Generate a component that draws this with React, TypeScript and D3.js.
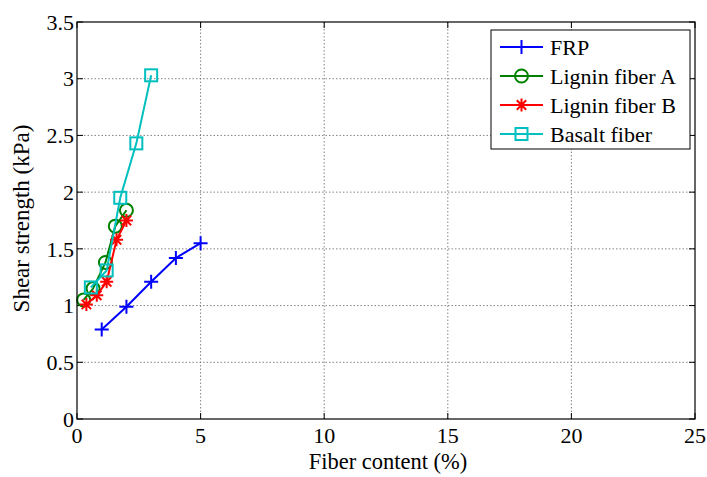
import React from "react";
import * as d3 from "d3";

// series values
const frpX = [1, 2, 3, 4, 5];
const frpY = [0.79, 0.99, 1.21, 1.42, 1.55];
const ligAX = [0.27, 0.65, 1.15, 1.55, 2.0];
const ligAY = [1.05, 1.15, 1.38, 1.7, 1.84];
const ligBX = [0.38, 0.8, 1.2, 1.6, 2.0];
const ligBY = [1.01, 1.09, 1.21, 1.58, 1.75];
const basX = [0.56, 1.2, 1.75, 2.4, 3.0];
const basY = [1.16, 1.31, 1.95, 2.43, 3.03];

const xTicks = [0, 5, 10, 15, 20, 25];
const yTicks = [0, 0.5, 1, 1.5, 2, 2.5, 3, 3.5];
const seriesNames = ["FRP", "Lignin fiber A", "Lignin fiber B", "Basalt fiber"];

const FONT = "Liberation Serif";

const W = 707;
const H = 477;
const m = { left: 77, right: 695, top: 22, bottom: 419 };

const x = d3.scaleLinear().domain([0, 25]).range([m.left, m.right]);
const y = d3.scaleLinear().domain([0, 3.5]).range([m.bottom, m.top]);

const line = d3
  .line<number[]>()
  .x((d) => x(d[0]))
  .y((d) => y(d[1]));

function Marker({ kind, cx, cy, color }) {
  const common = { stroke: color, strokeWidth: 2, fill: "none" };
  if (kind === "plus") {
    const s = 7;
    return <path d={`M${cx - s},${cy}H${cx + s}M${cx},${cy - s}V${cy + s}`} {...common} />;
  }
  if (kind === "circle") {
    return <circle cx={cx} cy={cy} r={6.5} {...common} />;
  }
  if (kind === "star") {
    const s = 6.5;
    const d = s * 0.72;
    return (
      <path
        d={
          `M${cx - s},${cy}H${cx + s}M${cx},${cy - s}V${cy + s}` +
          `M${cx - d},${cy - d}L${cx + d},${cy + d}M${cx - d},${cy + d}L${cx + d},${cy - d}`
        }
        {...common}
      />
    );
  }
  const s = 6;
  return <rect x={cx - s} y={cy - s} width={2 * s} height={2 * s} {...common} />;
}

const series = [
  { name: seriesNames[0], xs: frpX, ys: frpY, color: "#0000ff", marker: "plus" },
  { name: seriesNames[1], xs: ligAX, ys: ligAY, color: "#008000", marker: "circle" },
  { name: seriesNames[2], xs: ligBX, ys: ligBY, color: "#ff0000", marker: "star" },
  { name: seriesNames[3], xs: basX, ys: basY, color: "#00bfbf", marker: "square" },
];

export default function App() {
  const tk = 6;
  const lx = 491;
  const ly = 30;
  return (
    <svg width={W} height={H} style={{ position: "absolute", left: 0, top: 0 }}>
      <rect width={W} height={H} fill="#fff" />

      {/* grid */}
      <g stroke="#666" strokeWidth={0.8} strokeDasharray="1.5,2">
        {xTicks.slice(1, -1).map((t) => (
          <line key={"gx" + t} x1={x(t)} x2={x(t)} y1={m.top} y2={m.bottom} />
        ))}
        {yTicks.slice(1, -1).map((t) => (
          <line key={"gy" + t} x1={m.left} x2={m.right} y1={y(t)} y2={y(t)} />
        ))}
      </g>

      {/* ticks on all sides, inward */}
      <g stroke="#000" strokeWidth={1}>
        {xTicks.map((t) => (
          <g key={"tx" + t}>
            <line x1={x(t)} x2={x(t)} y1={m.bottom} y2={m.bottom - tk} />
            <line x1={x(t)} x2={x(t)} y1={m.top} y2={m.top + tk} />
          </g>
        ))}
        {yTicks.map((t) => (
          <g key={"ty" + t}>
            <line x1={m.left} x2={m.left + tk} y1={y(t)} y2={y(t)} />
            <line x1={m.right} x2={m.right - tk} y1={y(t)} y2={y(t)} />
          </g>
        ))}
      </g>

      {/* tick labels */}
      <g fontFamily={FONT} fontSize={22}>
        {xTicks.map((t) => (
          <text key={"lx" + t} x={x(t)} y={m.bottom + 24} textAnchor="middle">
            {t}
          </text>
        ))}
        {yTicks.map((t) => (
          <text key={"ly" + t} x={m.left - 3} y={y(t)} dy="0.35em" textAnchor="end">
            {t}
          </text>
        ))}
      </g>

      {/* axis titles */}
      <text x={(m.left + m.right) / 2 + 2} y={469} textAnchor="middle" fontFamily={FONT} fontSize={22.5}>
        Fiber content (%)
      </text>
      <text
        transform={`translate(29,${(m.top + m.bottom) / 2 - 2}) rotate(-90)`}
        textAnchor="middle"
        fontFamily={FONT}
        fontSize={23}
      >
        Shear strength (kPa)
      </text>

      {/* series */}
      {series.map((s) => {
        const pts = s.xs.map((v, i) => [v, s.ys[i]]);
        return (
          <g key={s.name}>
            <path d={line(pts) || ""} fill="none" stroke={s.color} strokeWidth={2} />
            {pts.map((p, i) => (
              <Marker key={i} kind={s.marker} cx={x(p[0])} cy={y(p[1])} color={s.color} />
            ))}
          </g>
        );
      })}

      {/* frame */}
      <rect
        x={m.left}
        y={m.top}
        width={m.right - m.left}
        height={m.bottom - m.top}
        fill="none"
        stroke="#000"
        strokeWidth={1.2}
      />

      {/* legend */}
      <g>
        <rect x={lx} y={ly} width={199} height={119} fill="#fff" stroke="#000" strokeWidth={1} />
        {series.map((s, i) => {
          const cy = ly + 17 + i * 29;
          return (
            <g key={"lg" + s.name}>
              <line x1={lx + 9} x2={lx + 52} y1={cy} y2={cy} stroke={s.color} strokeWidth={2} />
              <Marker kind={s.marker} cx={lx + 30.5} cy={cy} color={s.color} />
              <text x={lx + 59} y={cy} dy="0.35em" fontFamily={FONT} fontSize={22}>
                {s.name}
              </text>
            </g>
          );
        })}
      </g>
    </svg>
  );
}
